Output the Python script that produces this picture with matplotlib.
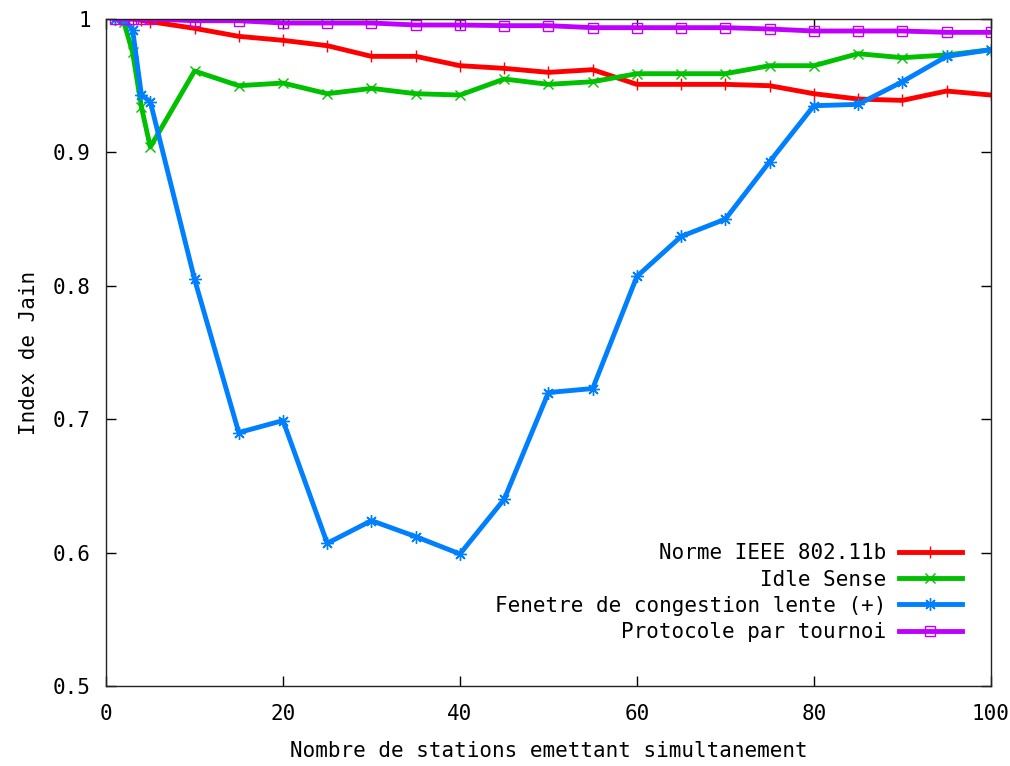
import matplotlib
matplotlib.use('Agg')
from matplotlib import pyplot as plt

# Nombre de stations
stations = [1, 2, 3, 4, 5, 10, 15, 20, 25, 30, 35, 40, 45, 50, 55, 60, 65, 70, 75, 80, 85, 90, 95, 100]

# Index de Jain par protocole
ieee = [1.0, 1.0, 1.0, 0.999, 0.998, 0.993, 0.987, 0.984, 0.980, 0.972, 0.972, 0.965, 0.963, 0.960,
        0.962, 0.951, 0.951, 0.951, 0.950, 0.944, 0.940, 0.939, 0.946, 0.943]
idle = [1.0, 0.998, 0.975, 0.934, 0.904, 0.961, 0.950, 0.952, 0.944, 0.948, 0.944, 0.943, 0.955, 0.951,
        0.953, 0.959, 0.959, 0.959, 0.965, 0.965, 0.974, 0.971, 0.973, 0.977]
fenetre = [1.0, 1.0, 0.992, 0.943, 0.938, 0.805, 0.690, 0.699, 0.607, 0.624, 0.612, 0.599, 0.640, 0.720,
           0.723, 0.807, 0.837, 0.850, 0.893, 0.935, 0.936, 0.953, 0.972, 0.977]
tournoi = [1.0, 1.0, 1.0, 1.0, 1.0, 0.9987, 0.9987, 0.997, 0.997, 0.997, 0.9955, 0.9955, 0.995, 0.995,
           0.9935, 0.9935, 0.9935, 0.9935, 0.9925, 0.991, 0.991, 0.991, 0.990, 0.990]

labels = ['Norme IEEE 802.11b', 'Idle Sense', 'Fenetre de congestion lente (+)', 'Protocole par tournoi']

plt.rcParams['font.family'] = ['DejaVu Sans Mono', 'DejaVu Sans']
fs = 15

fig = plt.figure(figsize=(10.1, 7.66), dpi=100)
ax = fig.add_axes([0.105, 0.1044, 0.876, 0.8708])

lw = 3.5
ax.plot(stations, ieee, color='#ff0000', lw=lw, marker='+', ms=9, mew=1.0, label=labels[0])
ax.plot(stations, idle, color='#00c000', lw=lw, marker='x', ms=7, mew=1.0, label=labels[1])
ax.plot(stations, fenetre, color='#0080ff', lw=lw, marker=(8, 2, 0), ms=9, mew=1.0, label=labels[2])
ax.plot(stations, tournoi, color='#c000ff', lw=lw, marker='s', ms=7, mew=1.0,
        markerfacecolor='none', label=labels[3])

ax.set_xlim(0, 100)
ax.set_ylim(0.5, 1)
ax.set_xticks([0, 20, 40, 60, 80, 100])
ax.set_yticks([0.5, 0.6, 0.7, 0.8, 0.9, 1.0])
ax.set_yticklabels(['0.5', '0.6', '0.7', '0.8', '0.9', '1'])
ax.tick_params(direction='in', top=True, right=True, length=7, width=1, labelsize=fs)
ax.tick_params(axis='x', pad=13)
ax.tick_params(axis='y', pad=11)
for s in ax.spines.values():
    s.set_linewidth(1.0)
    s.set_color('#222222')

ax.set_xlabel('Nombre de stations emettant simultanement', fontsize=fs, labelpad=12)
ax.set_ylabel('Index de Jain', fontsize=fs, labelpad=10)

ax.legend(loc='lower right', bbox_to_anchor=(0.967, 0.066), frameon=False, markerfirst=False,
          fontsize=fs, handlelength=3.0, handletextpad=0.6, labelspacing=0.3, borderaxespad=0,
          borderpad=0)

fig.savefig('out.png', dpi=100)
